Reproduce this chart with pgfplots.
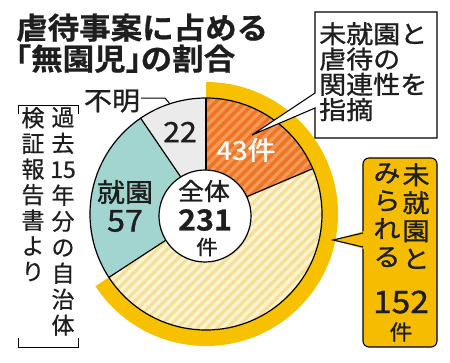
\documentclass[border=0pt]{standalone}
\usepackage{pgfplots}
\pgfplotsset{compat=1.18}
\usetikzlibrary{patterns.meta}
\usepackage{fontspec}
\newfontfamily\jp[FakeStretch=1.08,FakeBold=1.1]{Noto Sans CJK JP}
\newfontfamily\jpn[FakeBold=0.6]{Noto Sans CJK JP}
\newfontfamily\jpb[FakeStretch=1.05,FakeBold=0.7]{Noto Sans CJK JP Bold}
\definecolor{txt}{HTML}{1E1E1E}
\definecolor{ringY}{HTML}{F7C100}
\definecolor{boxY}{HTML}{F6BC00}
\definecolor{orBase}{HTML}{EE7526}
\definecolor{orStripe}{HTML}{F49A55}
\definecolor{yeBase}{HTML}{F6DF98}
\definecolor{yeStripe}{HTML}{FDF4D2}
\definecolor{tealS}{HTML}{A3D5D0}
\definecolor{grayS}{HTML}{EBEBEB}
\newcommand\sect[3]{(axis cs:206,214) -- ++(#1:#3) arc[start angle=#1, end angle=#2, radius=#3] -- cycle}
\begin{document}
\begin{tikzpicture}
% values: 43 (linked), 109 (other pre-school), 57 (enrolled), 22 (unknown); total 231
\pgfmathsetmacro\aB{90-43/231*360}
\pgfmathsetmacro\aC{\aB-109/231*360}
\pgfmathsetmacro\aD{\aC-57/231*360}
\pgfmathsetmacro\aE{\aD-22/231*360}
\begin{axis}[x=1pt,y=1pt,xmin=0,xmax=450,ymin=0,ymax=362,y dir=reverse,
  hide axis,clip=false]
\path (axis cs:0,0) rectangle (axis cs:450,362);
% outer ring for 152 (43+109)
\fill[ringY] \sect{90}{\aC}{132pt};
% sectors
\fill[orBase] \sect{90}{\aB}{116pt};
\fill[pattern={Lines[angle=45,distance=7pt,line width=3.2pt]},pattern color=orStripe] \sect{90}{\aB}{116pt};
\fill[yeBase] \sect{\aB}{\aC}{116pt};
\fill[pattern={Lines[angle=45,distance=7pt,line width=3.4pt]},pattern color=yeStripe] \sect{\aB}{\aC}{116pt};
\fill[tealS] \sect{\aC}{\aD}{116pt};
\fill[grayS] \sect{\aD}{\aE}{116pt};
\draw[line width=1.2pt] (axis cs:206,214) circle[radius=116pt];
\draw[line width=1.2pt] (axis cs:206,214) -- ++(90:116pt);
\draw[line width=1.2pt] (axis cs:206,214) -- ++(\aB:116pt);
\draw[line width=1.2pt] (axis cs:206,214) -- ++(\aC:116pt);
\draw[line width=1.2pt] (axis cs:206,214) -- ++(\aD:116pt);
\filldraw[fill=white,line width=1.2pt] (axis cs:205,216) circle[radius=46pt];
% sector labels
\node[font=\jp\fontsize{26}{26}\selectfont,text=white] at (axis cs:246,150) {43件};
\node[font=\jp\fontsize{28}{28}\selectfont,text=txt] at (axis cs:180,132) {22};
\node[font=\jp\fontsize{26}{26}\selectfont,text=txt] at (axis cs:125,192) {就園};
\node[font=\jp\fontsize{30}{30}\selectfont,text=txt] at (axis cs:125,221) {57};
\node[font=\jp\fontsize{24}{24}\selectfont,text=txt] at (axis cs:204,191) {全体};
\node[font=\jpb\fontsize{29}{29}\selectfont,text=txt] at (axis cs:205,220) {231};
\node[font=\jp\fontsize{20}{20}\selectfont,text=txt] at (axis cs:207,247) {件};
\node[font=\jp\fontsize{26}{26}\selectfont,text=txt] at (axis cs:112,101) {不明};
\draw[line width=1pt] (axis cs:141,98) -- (axis cs:165,98) -- (axis cs:170,104);
% callout 1
\filldraw[fill=white,draw=black,line width=1.1pt] (axis cs:315,12) -- (axis cs:437,12) -- (axis cs:437,138) -- (axis cs:315,138) -- (axis cs:315,108) -- (axis cs:252,135) -- (axis cs:315,93) -- cycle;
\node[anchor=north west,inner sep=0,align=left,text=txt,font=\jp\fontsize{25}{25.3}\selectfont] at (axis cs:319,22) {未就園と\\虐待の\\関連性を\\指摘};
% callout 2
\filldraw[fill=boxY,draw=black,line width=1.1pt,rounded corners=6pt] (axis cs:363,158) rectangle (axis cs:437,347);
\fill[boxY] (axis cs:364.5,231) -- (axis cs:333,240) -- (axis cs:364.5,249) -- cycle;
\draw[line width=1.1pt] (axis cs:363,233) -- (axis cs:333,240) -- (axis cs:363,247);
\node[anchor=north,inner sep=0,align=center,text=txt,font=\jp\fontsize{25}{28}\selectfont] at (axis cs:416,163) {未\\就\\園\\と};
\node[anchor=north,inner sep=0,align=center,text=txt,font=\jp\fontsize{25}{28}\selectfont] at (axis cs:387,163) {み\\ら\\れ\\る};
\node[font=\jp\fontsize{31}{31}\selectfont,text=txt] at (axis cs:401,302) {152};
\node[font=\jp\fontsize{21}{21}\selectfont,text=txt] at (axis cs:401,332) {件};
% source note
\draw[line width=1pt] (axis cs:18,114) -- (axis cs:18,105) -- (axis cs:78,105) -- (axis cs:78,114);
\draw[line width=1pt] (axis cs:18,338) -- (axis cs:18,347) -- (axis cs:78,347) -- (axis cs:78,338);
\node[anchor=north,inner sep=0,align=center,text=txt,font=\jpn\fontsize{23}{26}\selectfont] at (axis cs:63,107) {過\\去\\15\\年\\分\\の\\自\\治\\体};
\node[anchor=north,inner sep=0,align=center,text=txt,font=\jpn\fontsize{23}{25.6}\selectfont] at (axis cs:33,107) {検\\証\\報\\告\\書\\よ\\り};
% title
\node[anchor=base west,inner sep=0,text=txt,font=\jpb\fontsize{30}{31}\selectfont] at (axis cs:16,39) {虐待事案に占める};
\node[anchor=base west,inner sep=0,text=txt,font=\jpb\fontsize{30}{31}\selectfont] at (axis cs:16,70) {\makebox[0.5em][r]{「}無園児\makebox[0.5em][l]{」}の割合};
\end{axis}
\end{tikzpicture}
\end{document}
